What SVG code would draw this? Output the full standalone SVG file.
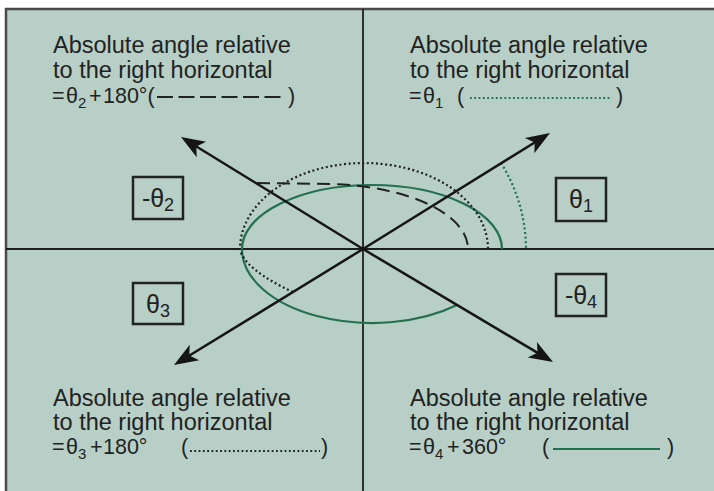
<svg xmlns="http://www.w3.org/2000/svg" width="714" height="491" viewBox="0 0 714 491">
<style>
.bg{fill:#b7cfc6;stroke:#4a4a4a;stroke-width:2.5}
.axis{stroke:#1e1e1e;stroke-width:1.8;fill:none}
.arrow{stroke:#151515;stroke-width:2.5;fill:none;marker-end:url(#head)}
.lbl{font-family:"Liberation Sans",Arial,Helvetica,sans-serif;font-size:23.5px;fill:#222}
.eq{font-size:21.5px}
.sub{font-size:15px}
.box{fill:none;stroke:#222;stroke-width:2.5}
.blbl{font-family:"Liberation Sans",Arial,Helvetica,sans-serif;font-size:25px;fill:#222;text-anchor:middle}
.bsub{font-size:18px}
.green{stroke:#23704f;stroke-width:2.2;fill:none}
.gdot{stroke:#23704f;stroke-width:2.2;fill:none;stroke-dasharray:2 2.6}
.kdot{stroke:#222;stroke-width:2.2;fill:none;stroke-dasharray:2 2.6}
.kdash{stroke:#222;stroke-width:2;fill:none;stroke-dasharray:13 7}
.ldash{stroke:#222;stroke-width:2;fill:none;stroke-dasharray:16 5.5}
.ldot{stroke-width:1.8;stroke-dasharray:1.8 2.5}
</style>
<defs>
<marker id="head" markerUnits="userSpaceOnUse" orient="auto" viewBox="-26 -11 27 22" refX="-10" refY="0" markerWidth="27" markerHeight="22">
<path d="M0,0 L-24,-9 L-18,0 L-24,9 Z" fill="#151515"/>
</marker>
</defs>
<rect class="bg" x="6" y="9" width="720" height="500"/>
<g id="axes">
<line class="axis" x1="363" y1="9" x2="363" y2="491"/>
<line class="axis" x1="6" y1="249" x2="714" y2="249"/>
</g>
<g id="curves">
<path class="green" d="M502,249 A130,64 0 0 0 242,249 A130,74 0 0 0 457,305"/>
<path class="kdot" d="M293,292 C262,278 242,262 240,249 A124,86 0 0 1 488,249"/>
<path class="kdash" d="M257,183 L330,184 C410,186 468,215 468,249"/>
<path class="gdot" d="M501,163 A163,163 0 0 1 526,249"/>
</g>
<g id="connectors">
<line class="arrow" x1="363" y1="249" x2="189.5" y2="142.2"/>
<line class="arrow" x1="363" y1="249" x2="541.5" y2="138.3"/>
<line class="arrow" x1="363" y1="249" x2="182.5" y2="359.8"/>
<line class="arrow" x1="363" y1="249" x2="544.4" y2="356.9"/>
</g>
<g id="label-q2">
<text class="lbl" x="53" y="53">Absolute angle relative</text>
<text class="lbl" x="53" y="78">to the right horizontal</text>
<text class="lbl eq" y="103"><tspan x="52">=</tspan><tspan x="66">θ</tspan><tspan class="sub" x="78" dy="5">2</tspan><tspan x="89" dy="-5">+</tspan><tspan x="103">180°</tspan><tspan x="147.5">(</tspan><tspan x="288">)</tspan></text>
<line class="ldash" x1="157" y1="97" x2="285" y2="97"/>
</g>
<g id="label-q1">
<text class="lbl" x="410" y="53">Absolute angle relative</text>
<text class="lbl" x="410" y="78">to the right horizontal</text>
<text class="lbl eq" y="103"><tspan x="409">=</tspan><tspan x="423">θ</tspan><tspan class="sub" x="435" dy="5">1</tspan><tspan x="457" dy="-5">(</tspan><tspan x="616">)</tspan></text>
<line class="gdot ldot" x1="470" y1="98" x2="612" y2="98"/>
</g>
<g id="label-q3">
<text class="lbl" x="53" y="406">Absolute angle relative</text>
<text class="lbl" x="53" y="430">to the right horizontal</text>
<text class="lbl eq" y="454"><tspan x="52">=</tspan><tspan x="66">θ</tspan><tspan class="sub" x="78" dy="5">3</tspan><tspan x="90" dy="-5">+</tspan><tspan x="103">180°</tspan><tspan x="181">(</tspan><tspan x="321">)</tspan></text>
<line class="kdot ldot" x1="190" y1="451" x2="320" y2="451"/>
</g>
<g id="label-q4">
<text class="lbl" x="410" y="406">Absolute angle relative</text>
<text class="lbl" x="410" y="430">to the right horizontal</text>
<text class="lbl eq" y="454"><tspan x="409">=</tspan><tspan x="423">θ</tspan><tspan class="sub" x="435" dy="5">4</tspan><tspan x="447" dy="-5">+</tspan><tspan x="462">360°</tspan><tspan x="542">(</tspan><tspan x="667">)</tspan></text>
<line class="green" x1="553" y1="449" x2="660" y2="449"/>
</g>
<g id="box-theta2">
<rect class="box" x="133" y="177" width="50" height="42"/>
<text class="blbl" x="158" y="207">-θ<tspan class="bsub" dy="4">2</tspan></text>
</g>
<g id="box-theta3">
<rect class="box" x="133" y="283" width="50" height="41"/>
<text class="blbl" x="158" y="313">θ<tspan class="bsub" dy="4">3</tspan></text>
</g>
<g id="box-theta1">
<rect class="box" x="556" y="178" width="50" height="43"/>
<text class="blbl" x="581" y="208">θ<tspan class="bsub" dy="4">1</tspan></text>
</g>
<g id="box-theta4">
<rect class="box" x="556" y="274" width="50" height="42"/>
<text class="blbl" x="581" y="304">-θ<tspan class="bsub" dy="4">4</tspan></text>
</g>
</svg>
